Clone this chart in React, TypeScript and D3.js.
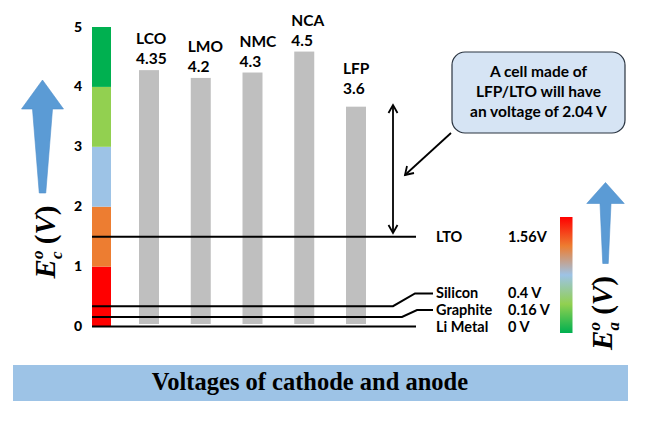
import React from "react";
import * as d3 from "d3";

const cathodes = ["LCO", "LMO", "NMC", "NCA", "LFP"];
const cathodeLabels = ["4.35", "4.2", "4.3", "4.5", "3.6"];
const cathodeBarHeights = [4.28, 4.15, 4.24, 4.59, 3.67];

const anodes = ["LTO", "Silicon", "Graphite", "Li Metal"];
const anodeLabels = ["1.56V", "0.4 V", "0.16 V", "0 V"];
const anodeLevels = [1.5, 0.34, 0.16, 0];

const bandColors = ["#ff0000", "#ed7d31", "#9dc3e6", "#92d050", "#00b050"];
const calloutLines = ["A cell made of", "LFP/LTO will have", "an voltage of 2.04 V"];
const title = "Voltages of cathode and anode";

const W = 648;
const H = 427;
const SANS = "Lato, 'Open Sans', sans-serif";
const SERIF = "'Liberation Serif', 'Times New Roman', serif";

export default function App() {
  const y = d3.scaleLinear().domain([0, 5]).range([326.5, 27]);
  const x = d3.scalePoint<string>().domain(cathodes).range([149, 356]);
  const barW = 20;
  const ticks = y.ticks(5);
  const labelNudge: Record<string, number> = { LFP: 7 };

  const lineEnd = 416;
  const labelX = 436;
  const valueX = 508;

  const lines = anodes.map((a, i) => {
    const yy = y(anodeLevels[i]);
    if (a === "Silicon") {
      return `M92,${yy} L393,${yy} L415,${293.5} L433,${293.5}`;
    }
    if (a === "Graphite") {
      return `M92,${yy} L402,${yy} L417,${310} L433,${310}`;
    }
    return `M92,${yy} L${lineEnd},${yy}`;
  });
  const labelY: Record<string, number> = {
    LTO: y(anodeLevels[0]) + 5,
    Silicon: 298,
    Graphite: 315,
    "Li Metal": 332,
  };

  const arrowPath = (tipX: number, tipY: number, headW: number, headBaseY: number, shaftTopW: number, shaftBotW: number, botY: number) =>
    `M${tipX},${tipY} L${tipX + headW / 2},${headBaseY} L${tipX + shaftTopW / 2},${headBaseY} L${tipX + shaftBotW / 2},${botY} L${tipX - shaftBotW / 2},${botY} L${tipX - shaftTopW / 2},${headBaseY} L${tipX - headW / 2},${headBaseY} Z`;

  return (
    <svg width={W} height={H} style={{ position: "absolute", left: 0, top: 0, background: "#fff" }}>
      <defs>
        <linearGradient id="anodeGrad" x1="0" y1="0" x2="0" y2="1">
          <stop offset="0%" stopColor="#ff0000" />
          <stop offset="25%" stopColor="#ed7d31" />
          <stop offset="50%" stopColor="#9dc3e6" />
          <stop offset="75%" stopColor="#92d050" />
          <stop offset="100%" stopColor="#00b050" />
        </linearGradient>
      </defs>

      {bandColors.map((c, i) => (
        <rect key={i} x={92} width={19} y={y(i + 1)} height={y(i) - y(i + 1)} fill={c} />
      ))}

      {ticks.map((t) => (
        <text key={t} x={82} y={y(t) - 1} textAnchor="end" dominantBaseline="central" fontFamily={SANS} fontWeight="900" fontSize={14} fill="#000">
          {t}
        </text>
      ))}

      {cathodes.map((c, i) => (
        <rect key={c} x={(x(c) as number) - barW / 2} width={barW} y={y(cathodeBarHeights[i])} height={y(0) - 2.5 - y(cathodeBarHeights[i])} fill="#bfbfbf" />
      ))}
      {cathodes.map((c, i) => {
        const top = y(cathodeBarHeights[i]) - 6 - (labelNudge[c] || 0);
        return (
          <g key={c + "l"} fontFamily={SANS} fontWeight="bold" fontSize={15.5} fill="#000">
            <text x={(x(c) as number) - barW / 2 - 3} y={top - 20}>{c}</text>
            <text x={(x(c) as number) - barW / 2 - 3} y={top}>{cathodeLabels[i]}</text>
          </g>
        );
      })}

      {lines.map((d, i) => (
        <path key={i} d={d} fill="none" stroke="#000" strokeWidth={2} />
      ))}
      {anodes.map((a, i) => (
        <g key={a} fontFamily={SANS} fontWeight="bold" fontSize={14.5} fill="#000">
          <text x={labelX} y={labelY[a]}>{a}</text>
          <text x={valueX} y={labelY[a]}>{anodeLabels[i]}</text>
        </g>
      ))}

      <g stroke="#000" strokeWidth={1.8} fill="none">
        <line x1={393} y1={105} x2={393} y2={233} />
        <path d="M388.5,113 L393,105 L397.5,113" />
        <path d="M388.5,225 L393,233 L397.5,225" />
      </g>

      <rect x={452} y={52} width={173} height={81} rx={13} ry={13} fill="#d6e4f4" stroke="#2a3440" strokeWidth={1.2} />
      {calloutLines.map((l, i) => (
        <text key={i} x={538.5} y={77 + i * 19.8} textAnchor="middle" fontFamily={SANS} fontWeight="bold" fontSize={15.5} fill="#000">
          {l}
        </text>
      ))}
      <g stroke="#000" strokeWidth={1.8} fill="none">
        <line x1={451} y1={133} x2={405} y2={175} />
        <path d="M407,166 L405,175 L414,173" />
      </g>

      <rect x={560} y={217} width={12.5} height={116} fill="url(#anodeGrad)" />

      <path d={arrowPath(42.5, 80, 42, 109, 20, 6.5, 193)} fill="#5b9bd5" stroke="#4f8fcb" strokeWidth={0.6} />
      <path d={arrowPath(605.5, 182.5, 37.5, 203.5, 11, 5.5, 263.5)} fill="#5b9bd5" stroke="#4f8fcb" strokeWidth={0.6} />

      <text transform="translate(55,242) rotate(-90)" textAnchor="middle" fontFamily={SERIF} fontWeight="bold" fontSize={29} fill="#000">
        <tspan fontStyle="italic">E</tspan>
        <tspan fontStyle="italic" fontSize={17} dy={-12}>o</tspan>
        <tspan fontStyle="italic" fontSize={17} dx={-8.5} dy={19}>c</tspan>
        <tspan dy={-7}> (</tspan>
        <tspan fontStyle="italic">V</tspan>
        <tspan>)</tspan>
      </text>
      <text transform="translate(612,313) rotate(-90)" textAnchor="middle" fontFamily={SERIF} fontWeight="bold" fontSize={29} fill="#000">
        <tspan fontStyle="italic">E</tspan>
        <tspan fontStyle="italic" fontSize={17} dy={-12}>o</tspan>
        <tspan fontStyle="italic" fontSize={17} dx={-8.5} dy={19}>a</tspan>
        <tspan dy={-7}> (</tspan>
        <tspan fontStyle="italic">V</tspan>
        <tspan>)</tspan>
      </text>

      <rect x={13} y={365} width={615} height={36} fill="#9dc3e6" />
      <text x={310} y={390} textAnchor="middle" fontFamily={SERIF} fontWeight="bold" fontSize={24.5} fill="#000">
        {title}
      </text>
    </svg>
  );
}
